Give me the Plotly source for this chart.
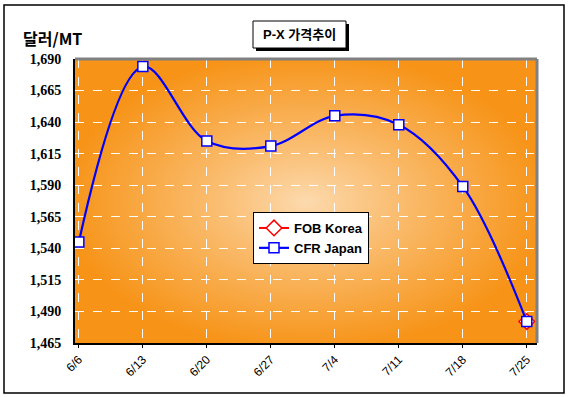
import base64, struct, zlib
import numpy as np
import plotly.graph_objects as go

# ---- data ----
categories = ["6/6", "6/13", "6/20", "6/27", "7/4", "7/11", "7/18", "7/25"]
cfr_japan = [1545, 1684, 1625, 1621, 1645, 1638, 1589, 1482]
fob_korea = [None, None, None, None, None, None, None, 1482]
y_ticks = [1465, 1490, 1515, 1540, 1565, 1590, 1615, 1640, 1665, 1690]

# ---- background gradient image (style only) ----
W, H = 462, 284
edge = np.array([247, 148, 24], dtype=float)
center = np.array([253, 219, 176], dtype=float)
yy, xx = np.mgrid[0:H, 0:W]
cx, cy = W * 0.5, H * 0.5
dx = np.abs(xx - cx) / cx
dy = np.abs(yy - cy) / cy
d = np.clip(np.sqrt(dx ** 2 + dy ** 2) / 1.05, 0, 1)
t = d ** 0.9
img = (center[None, None, :] * (1 - t[..., None]) + edge[None, None, :] * t[..., None]).astype(np.uint8)


def to_png(arr):
    h, w, _ = arr.shape
    raw = b"".join(b"\x00" + arr[i].tobytes() for i in range(h))

    def chunk(tag, data):
        c = struct.pack(">I", len(data)) + tag + data
        return c + struct.pack(">I", zlib.crc32(tag + data) & 0xFFFFFFFF)

    png = b"\x89PNG\r\n\x1a\n"
    png += chunk(b"IHDR", struct.pack(">IIBBBBB", w, h, 8, 2, 0, 0, 0))
    png += chunk(b"IDAT", zlib.compress(raw, 9))
    png += chunk(b"IEND", b"")
    return "data:image/png;base64," + base64.b64encode(png).decode()


bg_src = to_png(img)

PL, PT, PW, PH = 75, 59, 462, 284  # plot area in pixels


def px(x):
    return (x - PL) / PW


def py(y):
    return (PT + PH - y) / PH


fig = go.Figure()
fig.add_trace(go.Scatter(
    x=categories, y=fob_korea, name="FOB Korea", mode="lines+markers",
    line=dict(color="#FF0000", width=2),
    marker=dict(symbol="diamond", size=12, color="white", line=dict(color="#FF0000", width=1.5)),
))
fig.add_trace(go.Scatter(
    x=categories, y=cfr_japan, name="CFR Japan", mode="lines+markers",
    line=dict(color="#0000FF", width=2.2, shape="spline", smoothing=1.0),
    marker=dict(symbol="square", size=10, color="white", line=dict(color="#0000FF", width=1.5)),
))

fig.update_layout(
    width=569, height=397,
    margin=dict(l=PL, r=569 - PL - PW, t=PT, b=397 - PT - PH),
    paper_bgcolor="white",
    plot_bgcolor="#F7941D",
    showlegend=True,
    legend=dict(
        x=px(253), y=py(212), xanchor="left", yanchor="top",
        bgcolor="white", bordercolor="black", borderwidth=1,
        font=dict(family="Arial, Liberation Sans", size=13, color="black", weight="bold"),
        tracegroupgap=0, itemwidth=30,
    ),
    images=[dict(
        source=bg_src, xref="x domain", yref="y domain", x=0, y=1,
        sizex=1, sizey=1, xanchor="left", yanchor="top",
        sizing="stretch", layer="below",
    )],
)

fig.update_xaxes(
    type="category", range=[-0.06, 7.16],
    showgrid=True, gridcolor="white", griddash="dash", gridwidth=1,
    showline=True, linecolor="black", linewidth=2,
    ticks="outside", ticklen=3, tickcolor="black",
    tickangle=-45,
    tickfont=dict(family="Arial, Liberation Sans", size=12, color="black"),
    zeroline=False,
)
fig.update_yaxes(
    range=[1465, 1690], tickvals=y_ticks, tickformat=",",
    showgrid=True, gridcolor="white", griddash="dash", gridwidth=1,
    showline=True, linecolor="black", linewidth=2,
    ticks="", ticklabelstandoff=9,
    tickfont=dict(family="Liberation Serif, Times New Roman", size=14, color="black", weight="bold"),
    zeroline=False,
)

# plot area border (top/right gray) and outer chart border
fig.add_shape(type="line", xref="x domain", yref="y domain", x0=0, x1=1, y0=1, y1=1,
              line=dict(color="#808080", width=3))
fig.add_shape(type="line", xref="x domain", yref="y domain", x0=1, x1=1, y0=0, y1=1,
              line=dict(color="#808080", width=3))
fig.add_shape(type="rect", xref="paper", yref="paper",
              x0=px(4), x1=px(564), y0=py(393), y1=py(5),
              line=dict(color="black", width=1.5), fillcolor="rgba(0,0,0,0)", layer="below")

# title box with shadow
fig.add_shape(type="rect", xref="paper", yref="paper",
              x0=px(256), x1=px(349), y0=py(51), y1=py(24),
              line=dict(color="black", width=0), fillcolor="black", layer="above")
fig.add_shape(type="rect", xref="paper", yref="paper",
              x0=px(253), x1=px(346), y0=py(48), y1=py(21),
              line=dict(color="black", width=1), fillcolor="white", layer="above")
fig.add_annotation(text="<b>P-X 가격추이</b>", xref="paper", yref="paper",
                   x=px(299.5), y=py(34.5), xanchor="center", yanchor="middle",
                   showarrow=False,
                   font=dict(family="Arial, Noto Sans CJK KR", size=13, color="black"))
# y axis unit title
fig.add_annotation(text="달러/MT", xref="paper", yref="paper",
                   x=px(21), y=py(38), xanchor="left", yanchor="middle",
                   showarrow=False,
                   font=dict(family="Noto Sans CJK KR", size=16, color="black", weight="bold"))

fig.write_html("out.html", config={"displayModeBar": False},
               post_script="document.body.style.margin='0';document.body.style.overflow='hidden';")
